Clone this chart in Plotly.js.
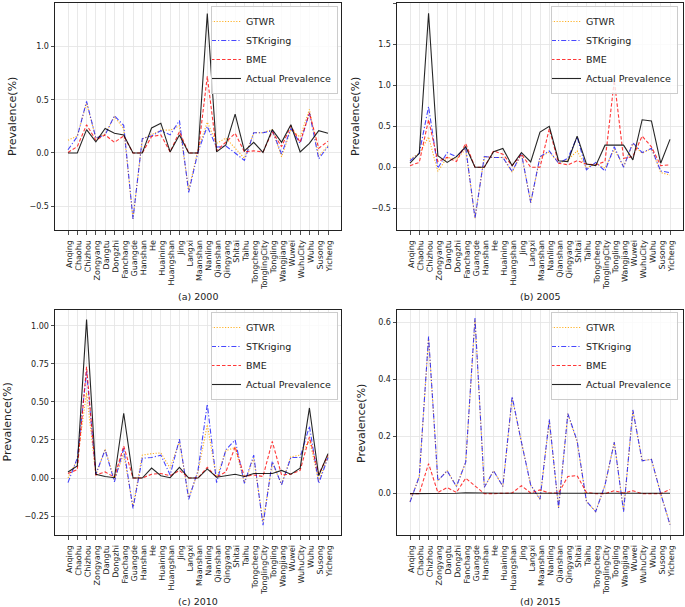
<!DOCTYPE html>
<html>
<head>
<meta charset="utf-8">
<script src="https://cdn.plot.ly/plotly-3.0.1.min.js"></script>
<style>html,body{margin:0;padding:0;background:#fff;}#chart{width:685px;height:607px;}</style>
</head>
<body>
<div id="chart"></div>
<script>
const categories = ["Anqing","Chaohu","Chizhou","Zongyang","Dangtu","Dongzhi","Fanchang","Guangde","Hanshan","He","Huaining","Huangshan","Jing","Langxi","Maanshan","Nanling","Qianshan","Qingyang","Shitai","Taihu","Tongcheng","TonglingCity","Tongling","Wangjiang","Wuwei","WuhuCity","Wuhu","Susong","Yicheng"];

const seriesNames = ["GTWR", "STKriging", "BME", "Actual Prevalence"];
const panelCaptions = ["(a) 2000", "(b) 2005", "(c) 2010", "(d) 2015"];
const yTitle = "Prevalence(%)";

// 2000
const gtwr2000 = [0.12,0.16,0.47,0.14,0.18,0.34,0.23,-0.62,0.13,0.17,0.215,0.215,0.255,-0.35,0.03,0.29,0.09,0.14,0.045,-0.05,0.19,0.19,0.22,-0.035,0.22,0.15,0.41,-0.03,0.07];
const stk2000  = [0.03,0.155,0.485,0.14,0.17,0.35,0.26,-0.62,0.135,0.16,0.21,0.17,0.305,-0.37,0.01,0.25,0.055,0.065,0.0,-0.07,0.19,0.19,0.21,-0.01,0.23,0.09,0.38,-0.055,0.06];
const bme2000  = [0.005,0.06,0.265,0.12,0.17,0.10,0.16,0,0,0.155,0.17,0.01,0.2,0,0,0.72,0.02,0.10,0.185,0.01,0.02,0.01,0.2,0.06,0.255,0.1,0.375,0.045,0.11];
const act2000  = [0,0,0.22,0.105,0.23,0.185,0.17,0,0,0.235,0.28,0.01,0.17,0,0,1.31,0.01,0.075,0.365,0.02,0.10,0.005,0.22,0.10,0.265,0.01,0.09,0.21,0.185];

// 2005
const gtwr2005 = [0.1,0.17,0.37,-0.05,0.12,0.1,0.22,-0.62,0.13,0.12,0.12,-0.06,0.16,-0.43,0.12,0.19,0.05,0.09,0.2,-0.01,0.05,-0.01,0.22,0.01,0.29,0.17,0.23,-0.065,-0.095];
const stk2005  = [0.08,0.17,0.74,-0.01,0.18,0.13,0.24,-0.62,0.13,0.12,0.12,-0.05,0.17,-0.43,0.13,0.2,0.05,0.11,0.37,-0.03,0.06,-0.045,0.25,0.0,0.3,0.18,0.23,-0.045,-0.065];
const bme2005  = [0.02,0.06,0.58,0.07,0.12,0.07,0.29,0,0,0.2,0.16,0.02,0.16,0,0,0.47,0.05,0.03,0.08,0.04,0.03,0.07,1.06,0.11,0.13,0.38,0.25,0.02,0.03];
const act2005  = [0.05,0.17,1.88,0.14,0.06,0.13,0.25,0,0,0.19,0.23,0.02,0.18,0.065,0.43,0.5,0.08,0.07,0.38,0.04,0.02,0.27,0.27,0.27,0.09,0.58,0.565,0.05,0.34];

// 2010
const gtwr2010 = [0.0,0.12,0.56,0.02,0.19,-0.01,0.16,-0.19,0.15,0.16,0.165,0.065,0.24,-0.13,0.04,0.35,0.0,0.18,0.2,-0.03,0.13,-0.29,0.1,-0.04,0.14,0.15,0.25,-0.02,0.14];
const stk2010  = [-0.03,0.13,0.70,0.025,0.185,-0.025,0.195,-0.2,0.13,0.135,0.15,0.02,0.255,-0.14,0.05,0.485,-0.03,0.185,0.25,-0.035,0.15,-0.31,0.11,-0.045,0.135,0.135,0.34,-0.035,0.135];
const bme2010  = [0.03,0.055,0.73,0.02,0.04,0.005,0.21,0,0,0.025,0.03,0.015,0.05,0,0,0.07,0.005,0.04,0.205,0.01,0.02,0.01,0.24,0.02,0.025,0.05,0.27,0.025,0.15];
const act2010  = [0.04,0.08,1.04,0.025,0.01,0.002,0.425,0,0,0.065,0.015,0.002,0.07,0,0,0.06,0.005,0.015,0.025,0.01,0.03,0.03,0.03,0.05,0.025,0.065,0.46,0.015,0.16];

// 2015
const gtwr2015 = [-0.028,0.06,0.545,0.045,0.08,0.025,0.11,0.61,0.022,0.08,0.025,0.335,0.18,0.03,-0.02,0.255,-0.05,0.28,0.18,-0.027,-0.063,0.03,0.18,-0.06,0.29,0.115,0.12,0.0,-0.108];
const stk2015  = [-0.03,0.06,0.55,0.045,0.08,0.025,0.11,0.615,0.022,0.08,0.025,0.34,0.18,0.03,-0.02,0.26,-0.05,0.28,0.185,-0.027,-0.063,0.03,0.18,-0.063,0.293,0.115,0.12,0.0,-0.109];
const bme2015  = [0.0,0.0,0.105,0.004,0.021,0.004,0.054,0.028,0.0,0.0,0.001,0.002,0.028,0.002,0.013,0.002,0.002,0.06,0.063,0.004,0.0,0.0,0.01,0.002,0.01,0.0,0.0,0.0,0.014];
const act2015  = [0,0,0.001,0.0,0.002,0.001,0.003,0.002,0.001,0.0,0.001,0.001,0.001,0.0,0.001,0.001,0.0,0.001,0.001,0.0,0.0,0.001,0.001,0.001,0.001,0.0,0.001,0.001,0.001];

const panels = [
  [gtwr2000, stk2000, bme2000, act2000],
  [gtwr2005, stk2005, bme2005, act2005],
  [gtwr2010, stk2010, bme2010, act2010],
  [gtwr2015, stk2015, bme2015, act2015]
];

const lineStyles = [
  {color:'rgba(255,165,0,0.85)', width:1.1, dash:'1.2px,1.6px'},
  {color:'rgba(0,0,255,0.72)', width:1.1, dash:'5px,2px,1.2px,2px'},
  {color:'rgba(255,0,0,0.78)', width:1.1, dash:'3.5px,2px'},
  {color:'rgba(0,0,0,0.85)', width:1.1, dash:'solid'}
];

const W = 685, H = 607;
const FONT = 'DejaVu Sans, Liberation Sans, sans-serif';
const px2x = p => p / W;
const px2y = p => 1 - p / H;

// panel boxes in pixels [left, right, top, bottom]
const boxes = [[55,341,3,230],[397,683,3,230],[55,341,310,535],[397,683,310,535]];
const yRanges = [[-0.724,1.41],[-0.765,2.004],[-0.374,1.103],[-0.145,0.643]];
const yDticks = [0.5,0.5,0.25,0.2];
const yFormats = ['.1f','.1f','.2f','.1f'];
const legendPos = [[338,6],[678,6],[338,312],[678,312]];
const captionPos = [[198,296],[540,296],[198,601],[540,601]];
const yTitlePos = [[12,117],[355,117],[6.5,422],[361,423]];

const traces = [];
const layout = {
  width: W, height: H, autosize:false,
  margin:{l:0,r:0,t:0,b:0,pad:0},
  paper_bgcolor:'#ffffff', plot_bgcolor:'#ffffff',
  font:{family:FONT, color:'#222222', size:9},
  annotations:[]
};

panels.forEach((series, p) => {
  const n = p === 0 ? '' : String(p+1);
  const legendId = 'legend' + n;
  series.forEach((vals, s) => {
    traces.push({
      type:'scatter', mode:'lines',
      x: categories, y: vals,
      name: seriesNames[s],
      xaxis:'x'+n, yaxis:'y'+n,
      legend: legendId,
      line: Object.assign({}, lineStyles[s]),
      hoverinfo:'skip'
    });
  });
  const b = boxes[p];
  layout['xaxis'+n] = {
    domain:[px2x(b[0]), px2x(b[1])],
    anchor:'y'+n,
    type:'category',
    categoryorder:'array', categoryarray:categories,
    tickmode:'array', tickvals:categories, ticktext:categories,
    range:[-1.4, categories.length - 1 + 1.4],
    tickangle:-89.9,
    tickfont:{family:FONT, size:8, color:'#222222'},
    ticks:'outside', ticklen:3.5, tickwidth:0.8, tickcolor:'#222222',
    showgrid:true, gridcolor:'#e3e3e3', gridwidth:0.8,
    showline:true, linecolor:'#222222', linewidth:1, mirror:true,
    zeroline:false, automargin:false, fixedrange:true
  };
  layout['yaxis'+n] = {
    domain:[px2y(b[3]), px2y(b[2])],
    anchor:'x'+n,
    range:yRanges[p],
    dtick:yDticks[p], tick0:0,
    tickformat:yFormats[p],
    tickfont:{family:FONT, size:8, color:'#222222'},
    ticks:'outside', ticklen:3.5, tickwidth:0.8, tickcolor:'#222222',
    showgrid:true, gridcolor:'#e3e3e3', gridwidth:0.8,
    showline:true, linecolor:'#222222', linewidth:1, mirror:true,
    zeroline:false, automargin:false, fixedrange:true
  };
  layout[legendId] = {
    x: px2x(legendPos[p][0]), y: px2y(legendPos[p][1]),
    xanchor:'right', yanchor:'top',
    xref:'paper', yref:'paper',
    bgcolor:'rgba(255,255,255,0.8)', bordercolor:'#cccccc', borderwidth:1,
    font:{family:FONT, size:9.5, color:'#222222'},
    tracegroupgap:0, itemwidth:30, indentation:-6
  };
  layout.annotations.push({
    text: panelCaptions[p], xref:'paper', yref:'paper',
    x: px2x(captionPos[p][0]), y: px2y(captionPos[p][1]),
    xanchor:'center', yanchor:'middle', showarrow:false,
    font:{family:FONT, size:9.5, color:'#222222'}
  });
  layout.annotations.push({
    text: yTitle, xref:'paper', yref:'paper',
    x: px2x(yTitlePos[p][0]), y: px2y(yTitlePos[p][1]),
    xanchor:'center', yanchor:'middle', showarrow:false, textangle:-90,
    font:{family:FONT, size:11, color:'#222222'}
  });
});

Plotly.newPlot('chart', traces, layout, {displayModeBar:false, staticPlot:true});
</script>
</body>
</html>
